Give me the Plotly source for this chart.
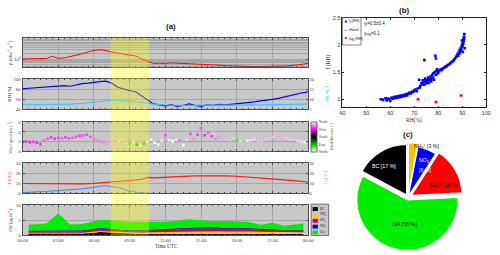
import plotly.graph_objects as go

# ---------------- data ----------------
hour_ticks = [0, 3, 6, 9, 12, 15, 18, 21, 24]
hour_labels = ["00:00", "03:00", "06:00", "09:00", "12:00", "15:00", "18:00", "21:00", "00:00"]
highlight_window = [7.4, 10.6]

t_half = [0, 0.5, 1, 1.5, 2, 2.5, 3, 3.5, 4, 4.5, 5, 5.5, 6, 6.5, 7, 7.5, 8, 8.5, 9, 9.5,
          10, 10.5, 11, 11.5, 12, 12.5, 13, 13.5, 14, 14.5, 15, 15.5, 16, 16.5, 17, 17.5,
          18, 18.5, 19, 19.5, 20, 20.5, 21, 21.5, 22, 22.5, 23, 23.5, 24]
beta = [1.09, 1.11, 1.12, 1.13, 1.15, 1.45, 1.15, 1.22, 1.38, 1.65, 1.95, 2.3, 2.8, 2.95,
        2.75, 2.3, 2.05, 1.85, 1.55, 1.5, 1.1, 0.82, 0.66, 0.68, 0.66, 0.7, 0.68, 0.71,
        0.66, 0.64, 0.62, 0.6, 0.58, 0.55, 0.52, 0.5, 0.5, 0.48, 0.48, 0.47, 0.47, 0.48,
        0.48, 0.49, 0.5, 0.52, 0.55, 0.6, 0.68]
rh = [81, 82, 83, 84, 85, 86, 87, 87, 86, 89, 91, 92, 94, 95, 96, 92, 84, 80, 77, 75,
      67, 58, 51, 49, 47, 49, 46, 48, 51, 48, 46, 49, 48, 50, 49, 50, 51, 52, 54, 55,
      57, 58, 60, 62, 65, 68, 71, 73, 75]

t_hour = [0, 1, 2, 3, 4, 5, 6, 7, 8, 9, 10, 11, 12, 13, 14, 15, 16, 17, 18, 19, 20, 21, 22, 23, 24]
q = [7.3, 7.3, 7.4, 7.5, 7.6, 8.0, 8.6, 9.3, 9.4, 9.1, 8.4, 7.6, 7.2, 7.0, 7.0, 7.1, 7.0,
     7.0, 7.1, 7.1, 7.2, 7.3, 7.3, 7.4, 7.6]

t_wind = [0.0, 0.3, 0.6, 0.9, 1.2, 1.5, 1.8, 2.1, 2.4, 2.7, 3.0, 3.3, 3.6, 3.9, 4.2, 4.5,
          4.8, 5.1, 5.4, 5.7, 6.0, 6.3, 6.6, 6.9, 7.2, 7.5, 7.8, 8.1, 8.4, 8.7, 9.0, 9.3,
          9.6, 9.9, 10.2, 10.5, 10.8, 11.1, 11.4, 11.7, 12.0, 12.3, 12.6, 12.9, 13.2, 13.5,
          13.8, 14.1, 14.4, 14.7, 15.0, 15.3, 15.6, 15.9, 16.2, 16.5, 16.8, 17.1, 17.4,
          17.7, 18.0, 18.3, 18.6, 18.9, 19.2, 19.5, 19.8, 20.1, 20.4, 20.7, 21.0, 21.3,
          21.6, 21.9, 22.2, 22.5, 22.8, 23.1, 23.4, 23.7]
wind_speed = [1.9, 2.0, 1.9, 2.0, 1.8, 1.5, 2.2, 2.6, 2.9, 2.6, 2.8, 2.7, 2.9, 2.7, 2.8, 3.0,
              3.2, 3.3, 3.4, 3.0, 2.5, 2.2, 1.9, 1.7, 2.1, 2.3, 1.6, 2.0, 2.4, 1.8, 1.6, 2.0,
              1.4, 1.2, 1.6, 2.0, 2.4, 1.8, 1.4, 2.2, 3.3, 2.3, 2.1, 2.4, 2.2, 1.3, 2.4, 3.6,
              2.6, 3.4, 4.7, 3.3, 3.8, 3.1, 2.6, 3.0, 2.6, 2.5, 2.3, 2.6, 2.3, 2.1, 2.0, 2.2,
              2.3, 2.4, 2.2, 2.1, 2.4, 2.7, 3.0, 3.2, 3.1, 2.9, 2.7, 2.5, 2.4, 2.2, 2.0, 1.9]
wind_dir = [285, 290, 280, 295, 285, 290, 300, 295, 290, 285, 295, 300, 290, 295, 300, 295,
            290, 300, 295, 305, 310, 320, 315, 325,
            330, 340, 335, 345, 25, 340, 60, 350, 90, 10,
            80, 355, 5, 0, 10, 355, 300,
            5, 0, 355, 310, 0, 350,
            295, 320, 290, 300, 285, 305, 290, 315, 320, 330,
            340, 345, 30, 60,
            20, 40, 10, 350,
            345, 340, 335, 340, 345, 340, 335, 330, 340, 345, 350, 340, 345, 355, 0]
dir_ticks = [0, 90, 180, 270, 360]
dir_labels = ["North", "East", "South", "West", "North"]

t_temp = [0, 1, 2, 3, 4, 5, 6, 7, 8, 9, 10, 10.5, 11, 12, 13, 14, 15, 16, 17, 18, 19, 20,
          21, 22, 23, 24]
temp = [9.8, 9.6, 9.4, 9.2, 9.2, 9.4, 10.0, 10.8, 11.8, 12.8, 14.0, 15.8, 15.4, 16.2, 16.8,
        17.2, 17.5, 17.6, 17.4, 17.0, 16.3, 15.5, 14.6, 13.5, 12.4, 11.3]
t_dew = [0, 1, 2, 3, 4, 5, 6, 6.5, 7, 7.5, 8, 8.5, 9, 9.3, 9.6, 10.0, 10.3]
dew = [0.8, 1.2, 2.0, 2.8, 3.5, 4.5, 6.0, 7.2, 7.5, 7.0, 5.8, 4.5, 1.6, 2.8, 0.6, 1.0, 0.4]

t_pm = [0.5, 1.5, 2.0, 3.0, 4.0, 5.0, 6.0, 6.5, 7.0, 8.0, 9.0, 10, 11, 12, 13, 14, 15, 16,
        17, 18, 19, 20, 21, 22, 23, 23.6]
pm_bc = [0.6, 0.6, 0.6, 0.5, 0.5, 0.6, 0.9, 1.1, 1.0, 0.8, 0.6, 0.5, 0.5, 0.5, 0.6, 0.6,
         0.6, 0.6, 0.6, 0.6, 0.6, 0.6, 0.6, 0.5, 0.5, 0.5]
pm_nh4 = [0.3, 0.3, 0.3, 0.3, 0.3, 0.3, 0.4, 0.4, 0.4, 0.4, 0.3, 0.4, 0.5, 0.6, 0.7, 0.8,
          0.9, 0.8, 0.7, 0.8, 0.7, 0.6, 0.6, 0.5, 0.5, 0.5]
pm_so4 = [0.4, 0.4, 0.4, 0.4, 0.4, 0.5, 0.6, 0.7, 0.7, 0.6, 0.5, 0.6, 0.7, 0.8, 0.8, 0.8,
          0.8, 0.9, 0.8, 0.8, 0.7, 0.6, 0.6, 0.6, 0.6, 0.6]
pm_no3 = [0.3, 0.3, 0.3, 0.3, 0.3, 0.3, 0.3, 0.3, 0.3, 0.3, 0.3, 0.3, 0.3, 0.4, 0.4, 0.5,
          0.5, 0.5, 0.4, 0.4, 0.4, 0.3, 0.3, 0.3, 0.3, 0.3]
pm_oa = [1.9, 2.0, 2.3, 5.8, 2.1, 2.1, 2.6, 2.6, 2.6, 2.8, 2.8, 2.7, 2.6, 2.2, 2.3, 2.6,
         2.2, 1.9, 2.3, 2.1, 2.0, 1.4, 2.1, 1.3, 1.7, 2.0]
pm_names = ["BC", "NH<sub>4</sub>", "SO<sub>4</sub>", "NO<sub>3</sub>", "OA"]
pm_colors = ["#000000", "#ffd000", "#e8002a", "#0000ff", "#00ee00"]

f_rh = [56.0, 57.0, 58.0, 58.5, 59.0, 59.5, 60.0, 60.5, 61.0, 61.5, 62.0, 62.5, 63.0, 63.5, 64.0,
        64.5, 65.0, 65.5, 66.0, 66.5, 67.0, 67.5, 68.0, 68.5, 69.0, 69.5, 70.0, 70.5, 71.0,
        71.5, 72.0, 72.3, 72.5, 73.0, 73.3, 73.5, 73.8, 74.0, 74.2, 74.5, 74.6, 75.0, 75.2,
        75.5, 75.8, 76.0, 76.2, 76.5, 76.8, 77.0, 77.2, 77.5, 77.8, 78.0, 78.2, 78.5, 78.8,
        79.0, 79.0, 79.2, 79.5, 79.8, 80.0, 80.5, 81.0, 81.5, 82.0, 82.5, 83.0, 83.5, 84.0,
        84.5, 85.0, 85.5, 86.0, 86.5, 87.0, 87.5, 88.0, 88.3, 88.6, 88.8, 89.0, 89.2, 89.4,
        89.6, 89.8, 90.0, 90.1, 90.3, 90.4, 90.5, 90.6, 90.7, 90.8, 90.9, 91.0, 90.2, 89.9, 91.0]
f_val = [1.00, 0.99, 1.02, 0.98, 1.01, 1.00, 0.97, 1.03, 1.01, 1.04, 1.02, 1.05, 1.03, 1.06,
         1.04, 1.07, 1.05, 1.08, 1.06, 1.09, 1.07, 1.10, 1.12, 1.11, 1.14, 1.13, 1.16, 1.18,
         1.15, 1.20, 1.36, 1.22, 1.25, 1.30, 1.28, 1.35, 1.31, 1.27, 1.72, 1.38, 1.33, 1.29,
         1.36, 1.32, 1.40, 1.30, 1.35, 1.38, 1.42, 1.33, 1.37, 1.45, 1.40, 1.48, 1.36, 1.50,
         1.80, 1.75, 1.45, 1.52, 1.55, 1.48, 1.50, 1.53, 1.55, 1.54, 1.57, 1.58, 1.60, 1.61,
         1.63, 1.64, 1.66, 1.68, 1.70, 1.72, 1.75, 1.78, 1.82, 1.80, 1.86, 1.84, 1.90, 1.88,
         1.93, 1.91, 1.96, 2.00, 1.98, 2.05, 2.02, 2.10, 2.07, 2.15, 2.12, 2.20, 1.94, 1.87, 2.08]
hanel_rh = [56, 60, 65, 70, 75, 80, 83, 85, 87, 89, 90, 91]
hanel_f = [1.00, 1.04, 1.09, 1.17, 1.30, 1.46, 1.58, 1.66, 1.78, 1.95, 2.06, 2.18]
fpm_rh = [71.5, 79.0, 89.5]
fpm_val = [1.00, 0.95, 1.07]

pie_labels = ["NH4+", "NO3-", "SO4 2-", "OA", "BC"]
pie_values = [3, 6, 15, 58, 17]
pie_colors = ["#f5c400", "#0000ff", "#ff0000", "#00ee00", "#000000"]

# ---------------- helpers (layout positions) ----------------
W, H = 500, 255
def px(x): return x / W
def py(y): return 1 - y / H

SERIF = "Liberation Serif"
SANS = "Liberation Sans"
GRAY_BG = "#c8c8c8"
FRAME = "#505050"
GRID = "#a6a6a6"

fig = go.Figure()

# panel 1
fig.add_trace(go.Scatter(x=t_half, y=beta, mode="lines", line=dict(color="#ff0000", width=1),
                         xaxis="x", yaxis="y"))
# panel 2
fig.add_trace(go.Scatter(x=t_half, y=rh, mode="lines", line=dict(color="#0000ff", width=1.2),
                         xaxis="x2", yaxis="y2"))
fig.add_trace(go.Scatter(x=t_hour, y=q, mode="lines", line=dict(color="#33c8ff", width=1.2),
                         xaxis="x2", yaxis="y3"))
# panel 3
fig.add_trace(go.Scatter(
    x=t_wind, y=wind_speed, mode="markers", xaxis="x3", yaxis="y4",
    marker=dict(size=2.6, symbol="square", color=wind_dir, cmin=0, cmax=360,
                colorscale=[[0, "#ffffff"], [0.25, "#00c800"], [0.5, "#000000"],
                            [0.75, "#ff00ff"], [1, "#ffe6ff"]],
                colorbar=dict(x=px(313), xanchor="left", y=py(137), yanchor="middle",
                              len=31 / H, lenmode="fraction", thickness=6, xpad=0, ypad=0,
                              outlinewidth=0.8, outlinecolor=FRAME,
                              tickvals=dir_ticks, ticktext=dir_labels, ticks="",
                              tickfont=dict(family=SERIF, size=3.8, color="#444")))))
# panel 4
fig.add_trace(go.Scatter(x=t_temp, y=temp, mode="lines", line=dict(color="#ff1a1a", width=1.2),
                         xaxis="x4", yaxis="y5"))
fig.add_trace(go.Scatter(x=t_dew, y=dew, mode="lines", line=dict(color="#4f7cff", width=1),
                         xaxis="x4", yaxis="y6"))
# panel 5 stacked
for name, vals, col in zip(pm_names, [pm_bc, pm_nh4, pm_so4, pm_no3, pm_oa], pm_colors):
    fig.add_trace(go.Scatter(x=t_pm, y=vals, name=name, mode="lines", stackgroup="pm",
                             line=dict(width=0, color=col), fillcolor=col,
                             xaxis="x5", yaxis="y7"))
# panel b
fig.add_trace(go.Scatter(x=hanel_rh, y=hanel_f, mode="lines", line=dict(color="#9fa8ff", width=1),
                         xaxis="x6", yaxis="y8"))
fig.add_trace(go.Scatter(x=f_rh, y=f_val, mode="markers",
                         marker=dict(symbol="square", size=2.6, color="#0000ff"),
                         xaxis="x6", yaxis="y8"))
fig.add_trace(go.Scatter(x=fpm_rh, y=fpm_val, mode="markers",
                         marker=dict(symbol="square", size=2.6, color="#ff0000"),
                         xaxis="x6", yaxis="y8"))
# panel c
fig.add_trace(go.Pie(values=pie_values, labels=pie_labels, sort=False, direction="clockwise",
                     rotation=0, pull=[0.08, 0.02, 0.08, 0.05, 0.05], textinfo="none",
                     hoverinfo="skip",
                     marker=dict(colors=pie_colors, line=dict(color="white", width=1.2)),
                     domain=dict(x=[px(356), px(468)], y=[py(255), py(143)])))

# ---------------- axes ----------------
tickfont = dict(family=SERIF, size=4.8, color="#444")
def xa(anchor, labels=False):
    d = dict(domain=[px(18), px(310)], range=[0, 24], anchor=anchor, tickvals=hour_ticks,
             ticktext=hour_labels, showticklabels=labels, ticks="inside", ticklen=2,
             tickcolor=FRAME, showline=True, linecolor=FRAME, linewidth=1, mirror="ticks",
             showgrid=True, gridcolor=GRID, gridwidth=0.7, zeroline=False, tickfont=tickfont,
             minor=dict(dtick=0.5, ticklen=1.2, ticks="inside", tickcolor=FRAME))
    if anchor != "y":
        d["matches"] = "x"
    return d

def ya(dom, anchor, rng, tv, color="#444", mirror="ticks", **kw):
    d = dict(domain=[py(dom[1]), py(dom[0])], anchor=anchor, range=rng, tickvals=tv,
             ticks="inside", ticklen=2, tickcolor=FRAME, showline=True, linecolor=FRAME,
             linewidth=1, mirror=mirror, showgrid=True, gridcolor=GRID, gridwidth=0.5,
             zeroline=False, tickfont=dict(family=SERIF, size=4.8, color=color))
    d.update(kw)
    return d

P1, P2, P3, P4, P5 = (36, 66), (78, 109), (122, 152), (164, 195), (207, 238)

layout = dict(
    width=W, height=H, margin=dict(l=0, r=0, t=0, b=0),
    paper_bgcolor="white", plot_bgcolor=GRAY_BG, showlegend=False,
    xaxis=xa("y"), xaxis2=xa("y2"), xaxis3=xa("y4"), xaxis4=xa("y5"), xaxis5=xa("y7", True),
    yaxis=ya(P1, "x", [-0.37, 1.03], [1], type="log", ticktext=["10<sup>0</sup>"],
             minor=dict(dtick="D1", showgrid=True, gridcolor=GRID, gridwidth=0.5)),
    yaxis2=ya(P2, "x2", [40, 100], [40, 60, 80, 100], mirror=True),
    yaxis3=dict(overlaying="y2", side="right", anchor="x2", range=[5, 20],
                tickvals=[5, 10, 15, 20], ticks="inside", ticklen=2, tickcolor=FRAME,
                showgrid=False, zeroline=False, showline=False,
                tickfont=dict(family=SERIF, size=4.8, color="#444")),
    yaxis4=ya(P3, "x3", [0, 6], [0, 2, 4, 6]),
    yaxis5=ya(P4, "x4", [0, 30], [0, 10, 20, 30], mirror=True),
    yaxis6=dict(overlaying="y5", side="right", anchor="x4", range=[0, 30],
                tickvals=[0, 10, 20, 30], ticks="inside", ticklen=2, tickcolor=FRAME,
                showgrid=False, zeroline=False, showline=False,
                tickfont=dict(family=SERIF, size=4.8, color="#444")),
    yaxis7=ya(P5, "x5", [0, 10], [0, 5, 10]),
    xaxis6=dict(domain=[px(345), px(492)], anchor="y8", range=[40, 100],
                tickvals=[40, 50, 60, 70, 80, 90, 100], ticks="inside", ticklen=2,
                tickcolor="#222", showline=True, linecolor="#222", linewidth=0.8,
                mirror="ticks", showgrid=False, zeroline=False,
                tickfont=dict(family=SANS, size=5.5, color="#333")),
    yaxis8=dict(domain=[py(107), py(15)], anchor="x6", range=[0.85, 2.5],
                tickvals=[1, 1.5, 2, 2.5], ticks="inside", ticklen=2, tickcolor="#222",
                showline=True, linecolor="#222", linewidth=0.8, mirror="ticks",
                showgrid=False, zeroline=False,
                tickfont=dict(family=SANS, size=5.5, color="#333")),
)
fig.update_layout(**layout)

# ---------------- shapes ----------------
shapes = [
    dict(type="rect", xref="x6 domain", yref="y8 domain", x0=0, x1=1, y0=0, y1=1,
         fillcolor="white", line=dict(width=0), layer="below"),
    dict(type="rect", xref="x", yref="paper", x0=highlight_window[0], x1=highlight_window[1],
         y0=py(P5[1]), y1=py(P1[0]), fillcolor="rgba(255,255,0,0.33)", line=dict(width=0),
         layer="above"),
    # PM legend box
    dict(type="rect", xref="paper", yref="paper", x0=px(313), x1=px(331), y0=py(238), y1=py(206),
         fillcolor=GRAY_BG, line=dict(color=FRAME, width=0.8)),
    # f(RH) legend box
    dict(type="rect", xref="paper", yref="paper", x0=px(345), x1=px(364), y0=py(43), y1=py(15),
         fillcolor="white", line=dict(color="#333", width=0.6)),
    dict(type="rect", xref="paper", yref="paper", x0=px(347.5), x1=px(349.5), y0=py(20), y1=py(18),
         fillcolor="#0000ff", line=dict(width=0)),
    dict(type="line", xref="paper", yref="paper", x0=px(346.5), x1=px(350.5), y0=py(28), y1=py(28),
         line=dict(color="#9fa8ff", width=1)),
    dict(type="rect", xref="paper", yref="paper", x0=px(347.5), x1=px(349.5), y0=py(37), y1=py(35),
         fillcolor="#ff0000", line=dict(width=0)),
]
for i, col in enumerate(pm_colors):
    yc = 211 + i * 6
    shapes.append(dict(type="rect", xref="paper", yref="paper", x0=px(314.5), x1=px(320),
                       y0=py(yc + 2), y1=py(yc - 2), fillcolor=col, line=dict(width=0)))
fig.update_layout(shapes=shapes)

# ---------------- annotations ----------------
ann = []
def A(text, x, y, size=5, color="#333", family=SERIF, angle=0, xanchor="center", **kw):
    ann.append(dict(text=text, x=px(x), y=py(y), xref="paper", yref="paper", showarrow=False,
                    font=dict(size=size, color=color, family=family), textangle=angle,
                    xanchor=xanchor, yanchor="middle", borderpad=0, **kw))

A("<b>(a)</b>", 170, 24, size=8, color="#222", family=SANS)
A("<b>(b)</b>", 408, 8, size=8, color="#222", family=SANS)
A("<b>(c)</b>", 412, 135, size=8, color="#222", family=SANS)
A("Time UTC", 165, 249, size=5.2)
A("β [Mm<sup>-1</sup> sr<sup>-1</sup>]", 5, 51, size=4.5, color="#555", angle=-90)
A("RH [%]", 5, 93, size=4.8, color="#0000ff", angle=-90)
A("q [g kg<sup>-1</sup>]", 328, 93, size=4.5, color="#33c8ff", angle=-90)
A("Wind speed [m s<sup>-1</sup>]", 5, 137, size=4.2, color="#555", angle=-90)
A("Wind direction [°]", 334, 137, size=3.8, color="#555", angle=-90)
A("T [°C]", 5, 179, size=4.8, color="#ff3333", angle=-90)
A("T<sub>d</sub> [°C]", 328, 179, size=4.5, color="#7fa0ff", angle=-90)
A("PM [μg m<sup>-3</sup>]", 5, 222, size=4.5, color="#555", angle=-90)
for i, nm in enumerate(pm_names):
    A(nm, 321, 211 + i * 6, size=3.6, color="#222", xanchor="left")
# panel b texts
A("RH(%)", 418, 120, size=5.5)
A("f (RH)", 331, 60, size=5.5, angle=-90)
A("f<sub>γ</sub>(RH)", 350.5, 19, size=3.8, color="#222", family=SANS, xanchor="left")
A("Hänel", 351, 28, size=3.8, color="#222", family=SANS, xanchor="left")
A("f<sub>PM</sub> (RH)", 350.5, 37, size=3.8, color="#222", family=SANS, xanchor="left")
A("γ<sub>f</sub>=0.5±0.4", 366, 21, size=4.5, color="#222", family=SANS, xanchor="left")
A("γ<sub>PM</sub>=0.1", 366, 32, size=4.5, color="#222", family=SANS, xanchor="left")
# pie labels
A("NH<sub>4</sub><sup>+</sup> [3 %]", 431, 147, size=5.2, color="#111", family=SANS)
A("NO<sub>3</sub><sup>-</sup>", 429, 161, size=5.2, color="white", family=SANS)
A("[6 %]", 429, 171, size=5.2, color="white", family=SANS)
A("SO<sub>4</sub><sup>2-</sup> [15 %]", 448, 187, size=5.2, color="#111", family=SANS)
A("OA [58 %]", 408, 226, size=5.5, color="#111", family=SANS)
A("BC [17 %]", 388, 167, size=5.3, color="white", family=SANS)
fig.update_layout(annotations=ann)

fig.write_html("out.html", config={"displayModeBar": False},
               post_script="document.body.style.margin='0px';")
